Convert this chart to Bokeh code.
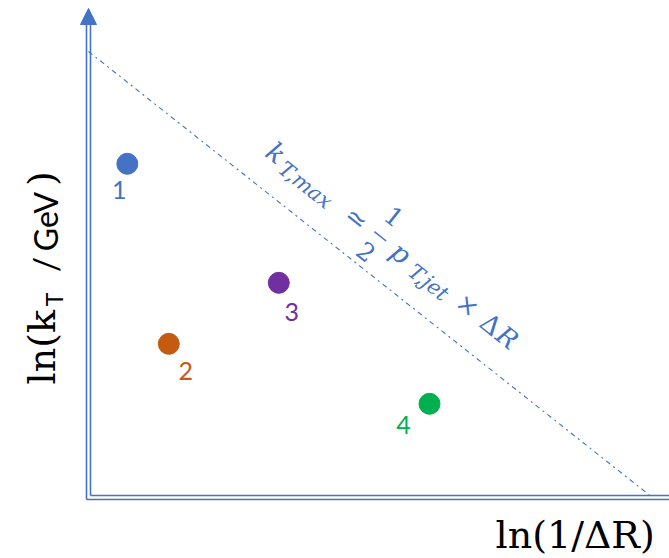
import numpy as np
from bokeh.plotting import figure
from bokeh.models import Range1d, Arrow, NormalHead, ColumnDataSource
from bokeh.core.properties import value
from bokeh.embed import file_html
from bokeh.resources import INLINE

# ---------------- data ----------------
emission_ids = ["1", "2", "3", "4"]
ln_inv_dR = [38.8, 80.3, 190.3, 341.0]       # x: ln(1/ΔR) (arbitrary units)
ln_kt = [333.7, 153.7, 214.7, 93.7]           # y: ln(kT / GeV) (arbitrary units)
point_colors = ["#4472C4", "#C55A11", "#7030A0", "#00B050"]
label_dx = [-8, 17, 13, -26]                  # label offsets (screen px)
label_dy = [35, 36, 38, 30]

limit_x = [0.0, 564.0]                        # kinematic limit line
limit_y = [446.0, 0.0]

x_axis_end = 581
y_axis_end = 489

BLUE = "#4472C4"
CORR = 0.36   # baseline correction (fraction of font size)

p = figure(width=669, height=558, x_range=Range1d(-88, 581), y_range=Range1d(-61, 497),
           output_backend="svg", toolbar_location=None, min_border=0,
           x_axis_location=None, y_axis_location=None)
p.grid.visible = False
p.outline_line_color = None
p.background_fill_color = "white"
p.border_fill_color = "white"

# ---- double-line axes ----
p.segment(x0=[-2, 2], y0=[-2, 2], x1=[-2, 2], y1=[y_axis_end - 16, y_axis_end - 16],
          line_color=BLUE, line_width=1.6)
p.segment(x0=[-2, 2], y0=[-2, 2], x1=[x_axis_end, x_axis_end], y1=[-2, 2],
          line_color=BLUE, line_width=1.6)
p.add_layout(Arrow(end=NormalHead(size=16, fill_color=BLUE, line_color=BLUE, line_width=1),
                   x_start=0, y_start=y_axis_end - 14, x_end=0, y_end=y_axis_end,
                   line_alpha=0))

# ---- kinematic limit line ----
p.line(limit_x, limit_y, line_color=BLUE, line_width=1.1, line_dash="5 4 2 4")

# ---- rotated formula along the line ----
theta = np.arctan2(limit_y[0] - limit_y[1], limit_x[1] - limit_x[0])
ux, uy = np.cos(theta), -np.sin(theta)
nx, ny = np.sin(theta), np.cos(theta)
ax0, ay0 = limit_x[0], limit_y[0]

def along(s, h):
    return ax0 + s * ux + h * nx, ay0 + s * uy + h * ny

pieces = [
    ("k", 210, 27, 27, "italic"),
    ("T,max", 253, 22, 21, "italic"),
    ("≃", 314, 26, 26, "normal"),
    ("1", 342, 51, 25, "normal"),
    ("2", 342, 6, 25, "normal"),
    ("p", 370, 26, 27, "italic"),
    ("T,jet", 410, 22, 21, "italic"),
    ("×", 455, 27, 26, "normal"),
    ("Δ", 485, 26, 26, "normal"),
    ("R", 506, 26, 26, "italic"),
]
for style in ("italic", "normal"):
    sel = [pc for pc in pieces if pc[4] == style]
    xs, ys = zip(*[along(pc[1], pc[2] + CORR * pc[3]) for pc in sel])
    src = ColumnDataSource(dict(x=list(xs), y=list(ys), t=[pc[0] for pc in sel],
                                fs=[f"{pc[3]}px" for pc in sel]))
    p.text(x="x", y="y", text="t", source=src, angle=-theta, text_align="center",
           text_baseline="alphabetic", text_font=value("DejaVu Serif"),
           text_font_size="fs", text_font_style=style, text_color=BLUE)
bx0, by0 = along(336, 36)
bx1, by1 = along(351, 36)
p.segment(x0=[bx0], y0=[by0], x1=[bx1], y1=[by1], line_color=BLUE, line_width=1.5)

# ---- points and labels ----
LBL = 25
src = ColumnDataSource(dict(x=ln_inv_dR, y=ln_kt, c=point_colors, t=emission_ids,
                            dx=label_dx, dy=[d - CORR * LBL for d in label_dy]))
p.scatter(x="x", y="y", size=21, fill_color="c", line_color="c", source=src)
p.text(x="x", y="y", text="t", x_offset="dx", y_offset="dy", source=src,
       text_color="c", text_align="center", text_baseline="alphabetic",
       text_font=value("Lato"), text_font_size=f"{LBL}px")

# ---- axis titles ----
p.text(x=[407], y=[-51 + CORR * 38], text=["ln(1/ΔR)"], text_font=value("DejaVu Serif"),
       text_font_size="38px", text_align="left", text_baseline="alphabetic", text_color="black")

def ylab(txt, y, base_px, size, font, align="center"):
    p.text(x=[base_px - 88 - CORR * size], y=[y], text=[txt], angle=np.pi / 2,
           text_font=value(font), text_font_size=f"{size}px", text_align=align,
           text_baseline="alphabetic", text_color="black")

ylab("ln(k", 497 - 384, 55, 38, "DejaVu Serif", align="left")
ylab("T", 497 - 299, 62, 23, "Lato")
ylab("/", 497 - 264, 57, 34, "Lato")
ylab("GeV", 497 - 221, 57, 32, "Lato")
ylab(")", 497 - 178, 55, 37, "DejaVu Serif")

open("out.html", "w").write(file_html(p, INLINE))
